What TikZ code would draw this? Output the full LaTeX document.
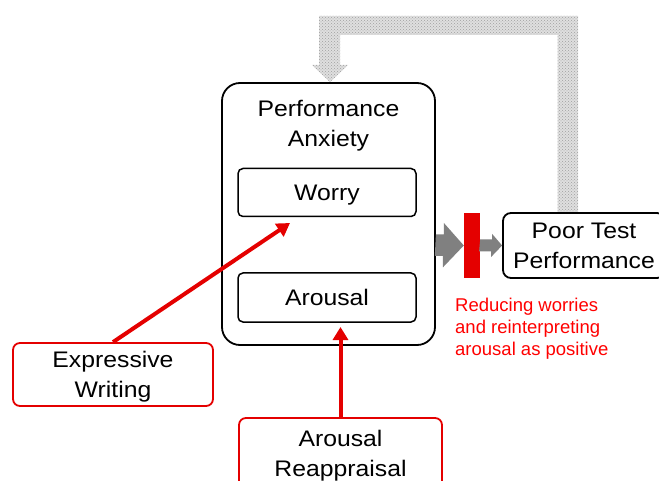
\documentclass[tikz,border=0pt]{standalone}
\usepackage{fontspec}
\setmainfont{Liberation Sans}[FakeStretch=1.1]
\newfontfamily\plainsans{Liberation Sans}
\usetikzlibrary{arrows.meta,patterns,calc}
\definecolor{pptred}{RGB}{228,0,0}
\definecolor{blockgray}{RGB}{128,128,128}
\begin{document}
\begin{tikzpicture}[x=1pt,y=-1pt,
  bigtext/.style={font=\fontsize{22.5}{30}\selectfont, align=center, inner sep=0pt, text depth=0pt},
  outerbox/.style={draw, line width=1.8pt, rounded corners=18pt, inner sep=0pt},
  innerbox/.style={draw, line width=1.5pt, rounded corners=5pt, bigtext},
  box/.style={draw, line width=1.8pt, rounded corners=8pt, bigtext},
  redbox/.style={draw=pptred, line width=1.8pt, rounded corners=7pt, bigtext},
  redarrow/.style={draw=pptred, line width=4pt, -{Triangle[length=13pt,width=15pt]}},
  blockarrow/.style={fill=blockgray},
  loopband/.style={preaction={fill=gray!25}, pattern=crosshatch dots, pattern color=gray!75},
  note/.style={text=red, font=\plainsans\fontsize{18.5}{22}\selectfont, align=left, inner sep=0pt}
]
\useasboundingbox (0,0) rectangle (659,481);

% feedback loop band
\path[loopband] (557.5,213) -- (557.5,35) -- (340,35) -- (340,65) -- (348,65) -- (330,82)
  -- (312,65) -- (319,65) -- (319,16) -- (578,16) -- (578,213) -- cycle;

% main box
\node[outerbox, minimum width=213pt, minimum height=262pt] (pa) at (328.5,214) {};
\node[bigtext] (title) at (328.5,123) {Performance\\Anxiety};
\node[innerbox, minimum width=178pt, minimum height=48pt] (worry) at (327,192.5) {Worry};
\node[innerbox, minimum width=178pt, minimum height=49pt] (arousal) at (327,297.5) {Arousal};

% outcome
\node[box, minimum width=162pt, minimum height=65pt] (ptp) at (584,245.5) {Poor Test\\Performance};
\node[fill=pptred, minimum width=16pt, minimum height=65pt, inner sep=0pt] (bar) at (472,245.5) {};

% interventions
\node[redbox, minimum width=200pt, minimum height=63pt] (ew) at (113,374.5) {Expressive\\Writing};
\node[redbox, minimum width=203pt, minimum height=70pt] (ar) at (340.5,453) {Arousal\\Reappraisal};

\node[note, anchor=north west] (noteA) at (455,298) {Reducing worries\\and reinterpreting\\arousal as positive};

% block arrows
\fill[blockarrow] (pa.east |- bar.west) ++(0,-11) -- ++(8,0) -- ++(0,-11.5) -- (bar.west)
  -- ++(-21,22) -- ++(0,-11.5) -- ++(-8,0) -- cycle;
\fill[blockarrow] (bar.east) ++(0,-6) -- ++(12,0) -- ++(0,-5.5) -- (ptp.west)
  -- ++(-11,11.5) -- ++(0,-5.5) -- ++(-12,0) -- cycle;

% red arrows
\coordinate (wtip) at (290,223);
\coordinate (atip) at (340.5,327);
\draw[redarrow] (ew.north) -- (wtip);
\draw[redarrow] (ar.north) -- (atip);
\end{tikzpicture}
\end{document}
